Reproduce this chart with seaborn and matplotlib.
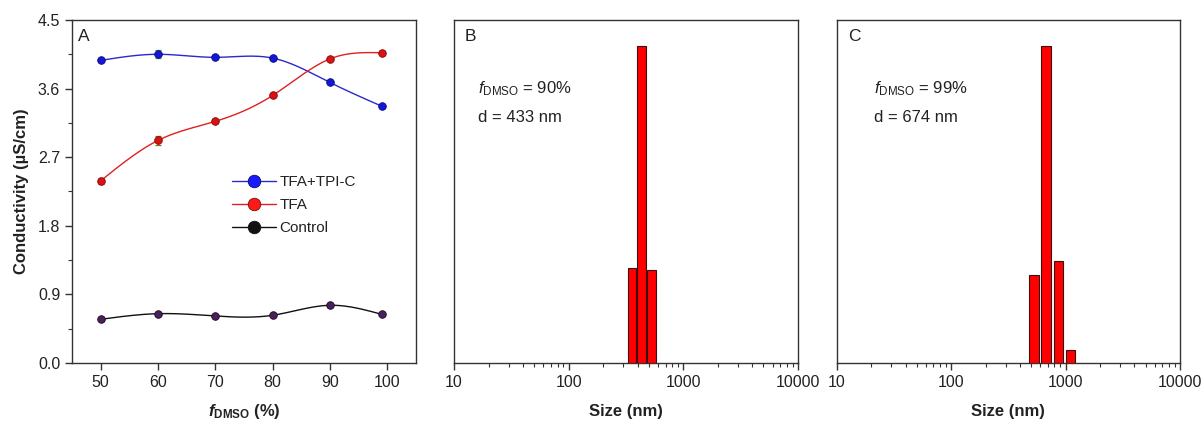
import numpy as np
import pandas as pd
import matplotlib
matplotlib.use("Agg")
import matplotlib.pyplot as plt
from matplotlib.lines import Line2D
from matplotlib.ticker import MultipleLocator, LogLocator, NullFormatter, NullLocator
import seaborn as sns

# ---- Panel A: conductivity vs DMSO fraction ----
f_dmso = [50, 60, 70, 80, 90, 99]
cond_tfa_tpic = [3.97, 4.05, 4.01, 4.00, 3.68, 3.37]
cond_tfa = [2.39, 2.92, 3.17, 3.51, 3.99, 4.07]
cond_control = [0.573, 0.647, 0.617, 0.626, 0.757, 0.639]
err_tfa_tpic = [0.02, 0.05, 0.02, 0.03, 0.02, 0.02]
err_tfa = [0.04, 0.06, 0.02, 0.02, 0.02, 0.02]
err_control = [0.01, 0.02, 0.01, 0.01, 0.02, 0.01]
series_names = ["TFA+TPI-C", "TFA", "Control"]

# ---- Panels B and C: DLS size distributions ----
size_b = [356, 433, 528]
intensity_b = [18.8, 62.9, 18.5]
size_c = [529, 674, 865, 1107]
intensity_c = [17.4, 62.9, 20.2, 2.5]
note_b = ["90%", "433 nm"]
note_c = ["99%", "674 nm"]

sns.set_style("ticks")
plt.rcParams["font.family"] = ["Liberation Sans", "DejaVu Sans"]
plt.rcParams["mathtext.fontset"] = "custom"
plt.rcParams["mathtext.rm"] = "Liberation Sans"
plt.rcParams["mathtext.it"] = "Liberation Sans:italic"
plt.rcParams["mathtext.bf"] = "Liberation Sans:bold"
plt.rcParams["mathtext.bfit"] = "Liberation Sans:bold:italic"
TXT = "#222222"
plt.rcParams["text.color"] = TXT
plt.rcParams["axes.labelcolor"] = TXT
plt.rcParams["xtick.color"] = "#333333"
plt.rcParams["ytick.color"] = "#333333"
plt.rcParams["xtick.labelcolor"] = TXT
plt.rcParams["ytick.labelcolor"] = TXT


def natural_spline(x, y, n=300):
    """Smooth connecting curve through the measured points (natural cubic spline)."""
    x = np.asarray(x, float)
    y = np.asarray(y, float)
    k = len(x)
    h = np.diff(x)
    A = np.zeros((k, k))
    r = np.zeros(k)
    A[0, 0] = A[-1, -1] = 1.0
    for i in range(1, k - 1):
        A[i, i - 1] = h[i - 1]
        A[i, i] = 2 * (h[i - 1] + h[i])
        A[i, i + 1] = h[i]
        r[i] = 6 * ((y[i + 1] - y[i]) / h[i] - (y[i] - y[i - 1]) / h[i - 1])
    M = np.linalg.solve(A, r)
    xs = np.linspace(x[0], x[-1], n)
    idx = np.clip(np.searchsorted(x, xs) - 1, 0, k - 2)
    x0, x1 = x[idx], x[idx + 1]
    hh = x1 - x0
    a = (x1 - xs) / hh
    b = (xs - x0) / hh
    ys = (a * y[idx] + b * y[idx + 1]
          + ((a ** 3 - a) * M[idx] + (b ** 3 - b) * M[idx + 1]) * hh ** 2 / 6)
    return xs, ys


fig = plt.figure(figsize=(12.04, 4.28), dpi=100)
axA = fig.add_axes([0.0598, 0.1519, 0.2857, 0.8014])
axB = fig.add_axes([0.3771, 0.1519, 0.2857, 0.8014])
axC = fig.add_axes([0.6949, 0.1519, 0.2852, 0.8014])

line_colors = ["#2a2ac8", "#e02020", "#111111"]
marker_colors = ["#1515e0", "#e01010", "#4a1f5c"]
edge_colors = ["#0a0a70", "#7a0a0a", "#1a0a20"]
err_colors = ["#3aa050", "#8a6a20", "#333333"]
values = [cond_tfa_tpic, cond_tfa, cond_control]
errors = [err_tfa_tpic, err_tfa, err_control]

for name, vals, errs, lc, mc, ec, erc in zip(series_names, values, errors,
                                              line_colors, marker_colors,
                                              edge_colors, err_colors):
    xs, ys = natural_spline(f_dmso, vals)
    curve = pd.DataFrame({"x": xs, "y": ys})
    sns.lineplot(data=curve, x="x", y="y", ax=axA, color=lc, lw=1.0,
                 estimator=None, sort=False, legend=False)
    axA.errorbar(f_dmso, vals, yerr=errs, fmt="none", ecolor=erc,
                 elinewidth=0.9, capsize=2, capthick=0.9, zorder=3)
    pts = pd.DataFrame({"x": f_dmso, "y": vals})
    sns.scatterplot(data=pts, x="x", y="y", ax=axA, color=mc, s=30,
                    edgecolor=ec, linewidth=0.6, zorder=4, legend=False)

axA.set_xlim(45, 105)
axA.set_ylim(0, 4.5)
axA.xaxis.set_major_locator(MultipleLocator(10))
axA.yaxis.set_major_locator(MultipleLocator(0.9))
axA.yaxis.set_minor_locator(MultipleLocator(0.45))
axA.yaxis.set_major_formatter(matplotlib.ticker.FormatStrFormatter("%.1f"))
axA.set_xlabel(r"$\mathbfit{f}_{\mathbf{DMSO}}$ (%)", fontsize=12,
               fontweight="bold", labelpad=9)
axA.set_ylabel("Conductivity (\u00b5S/cm)", fontsize=12, fontweight="bold",
               labelpad=6)
axA.text(0.017, 0.953, "A", transform=axA.transAxes, fontsize=12.5,
         ha="left", va="center")

handles = [Line2D([0], [0], color=lc, lw=1.0, marker="o", markersize=9,
                  markerfacecolor=mc2, markeredgecolor=ec, markeredgewidth=0.6)
           for lc, mc2, ec in zip(line_colors, ["#1a1aff", "#ff1a1a", "#111111"],
                                  edge_colors)]
axA.legend(handles, series_names, loc="upper left", bbox_to_anchor=(0.464, 0.547),
           frameon=False, fontsize=11, handlelength=2.9, handletextpad=0.25,
           labelspacing=0.58, borderpad=0, borderaxespad=0)

# DLS histograms drawn as bars of constant width in log-size
bar_logwidth = {"B": 0.074, "C": 0.085}
for ax, letter, sizes, inten, note in [(axB, "B", size_b, intensity_b, note_b),
                                       (axC, "C", size_c, intensity_c, note_c)]:
    c = np.asarray(sizes, float)
    w = bar_logwidth[letter]
    left = c * 10 ** (-w / 2)
    right = c * 10 ** (w / 2)
    ax.bar(left, inten, width=right - left, align="edge", color="#ff0000",
           edgecolor="#3a1010", linewidth=0.8, zorder=3)
    ax.set_xscale("log")
    ax.set_xlim(10, 10000)
    ax.set_ylim(0, 68)
    ax.xaxis.set_major_locator(LogLocator(base=10, numticks=10))
    ax.xaxis.set_minor_locator(LogLocator(base=10, subs=np.arange(2, 10), numticks=10))
    ax.xaxis.set_minor_formatter(NullFormatter())
    ax.xaxis.set_major_formatter(matplotlib.ticker.FuncFormatter(lambda v, p: f"{v:.0f}"))
    ax.yaxis.set_major_locator(NullLocator())
    ax.yaxis.set_minor_locator(NullLocator())
    ax.set_xlabel("Size (nm)", fontsize=12, fontweight="bold", labelpad=10)
    ax.text(0.032, 0.953, letter, transform=ax.transAxes, fontsize=12.5,
            ha="left", va="center")
    tx = 0.07 if letter == "B" else 0.109
    ax.text(tx, 0.80, r"$\mathit{f}_{\mathrm{DMSO}}$" + " = " + note[0],
            transform=ax.transAxes, fontsize=12, ha="left", va="center")
    ax.text(tx, 0.717, "d = " + note[1], transform=ax.transAxes, fontsize=12,
            ha="left", va="center")

for ax in (axA, axB, axC):
    for sp in ax.spines.values():
        sp.set_visible(True)
        sp.set_color("#333333")
        sp.set_linewidth(1.0)
    ax.tick_params(axis="both", which="major", direction="out", length=5,
                   width=1.0, labelsize=11.5, top=False, right=False)
    ax.tick_params(axis="both", which="minor", direction="out", length=3,
                   width=0.8, top=False, right=False)
    ax.set_facecolor("white")

fig.savefig("out.png", dpi=100, facecolor="white")
